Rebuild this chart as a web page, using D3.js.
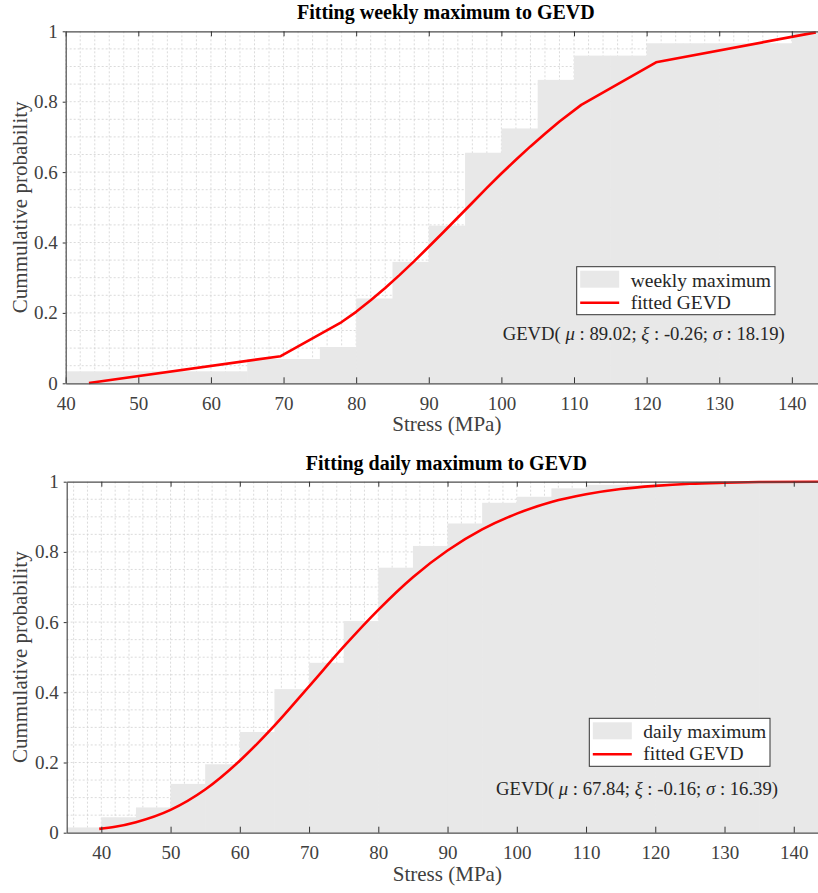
<!DOCTYPE html>
<html>
<head>
<meta charset="utf-8">
<script src="https://cdn.jsdelivr.net/npm/d3@7/dist/d3.min.js"></script>
<style>
  body { margin: 0; background: #fff; }
  svg { display: block; }
  text { font-family: "Liberation Serif", "DejaVu Serif", serif; }
</style>
</head>
<body>
<svg id="chart" width="818" height="893"></svg>
<script>
// histogram bins (left edge, width 5 MPa) and cumulative fractions
const weeklyBins = [40, 45, 50, 55, 60, 65, 70, 75, 80, 85, 90, 95, 100, 105, 110, 115, 120, 125, 130, 135, 140];
const weeklyCdf  = [0.034, 0.034, 0.034, 0.034, 0.034, 0.069, 0.069, 0.103, 0.241, 0.345, 0.448, 0.655, 0.724, 0.862, 0.931, 0.931, 0.966, 0.966, 0.966, 0.966, 1.0];

const dailyBins = [35, 40, 45, 50, 55, 60, 65, 70, 75, 80, 85, 90, 95, 100, 105, 110, 115, 120, 125, 130, 135, 140];
const dailyCdf  = [0.015, 0.044, 0.072, 0.139, 0.195, 0.287, 0.409, 0.484, 0.603, 0.755, 0.817, 0.881, 0.940, 0.957, 0.981, 0.991, 0.991, 0.995, 0.997, 0.997, 0.997, 1.0];

// fitted GEVD curves
const weeklyFitX = [43.2, 69.6, 78.0, 80, 82, 84, 86, 88, 90, 92, 94, 96, 98, 100, 102, 104, 106, 108, 111, 121.3, 143.3];
const weeklyFitY = [0.001, 0.077, 0.174, 0.203, 0.236, 0.271, 0.308, 0.347, 0.388, 0.429, 0.471, 0.513, 0.555, 0.596, 0.635, 0.673, 0.709, 0.744, 0.791, 0.912, 0.997];

const dailyFitX = [39.7, 42, 45, 50, 55, 60, 65, 70, 75, 80, 85, 90, 95, 100, 105, 110, 115, 120, 125, 130, 135, 143.5];
const dailyFitY = [0.011, 0.017, 0.030, 0.065, 0.123, 0.205, 0.305, 0.417, 0.530, 0.635, 0.728, 0.804, 0.864, 0.909, 0.942, 0.964, 0.979, 0.988, 0.994, 0.997, 0.999, 1.0];

const xTickValues = [40, 50, 60, 70, 80, 90, 100, 110, 120, 130, 140];
const yTicks = [0, 0.2, 0.4, 0.6, 0.8, 1];

const svg = d3.select("#chart");

function drawPanel(opt) {
  const x = d3.scaleLinear().domain(opt.xDomain).range([opt.left, opt.right]);
  const y = d3.scaleLinear().domain([0, 1]).range([opt.bottom, opt.top]);
  const g = svg.append("g");
  const clipId = "clip-" + opt.id;

  g.append("clipPath").attr("id", clipId)
    .append("rect")
    .attr("x", opt.left).attr("y", opt.top)
    .attr("width", opt.right - opt.left).attr("height", opt.bottom - opt.top);

  // grid, every 2 MPa and every 0.05
  const xMinor = d3.range(Math.ceil(opt.xDomain[0] / 2) * 2, opt.xDomain[1], 2);
  const yMinor = d3.range(0.05, 1, 0.05);
  const grid = g.append("g").attr("stroke", "#d2d2d2").attr("stroke-dasharray", "2,2").attr("stroke-width", 0.8);
  grid.selectAll(".gx").data(xMinor).enter().append("line")
    .attr("x1", d => x(d)).attr("x2", d => x(d))
    .attr("y1", opt.top).attr("y2", opt.bottom);
  grid.selectAll(".gy").data(yMinor).enter().append("line")
    .attr("x1", opt.left).attr("x2", opt.right)
    .attr("y1", d => y(d)).attr("y2", d => y(d));

  // cumulative histogram bars
  g.append("g").attr("clip-path", "url(#" + clipId + ")")
    .selectAll("rect").data(opt.bins).enter().append("rect")
    .attr("x", d => x(d))
    .attr("width", d => x(d + 5) - x(d) + 0.5)
    .attr("y", (d, i) => y(opt.cdf[i]))
    .attr("height", (d, i) => y(0) - y(opt.cdf[i]))
    .attr("fill", "#e8e8e8");

  // fitted curve
  const line = d3.line()
    .x((d, i) => x(opt.fitX[i]))
    .y((d, i) => y(opt.fitY[i]))
    .curve(opt.curve);
  g.append("path").datum(opt.fitX)
    .attr("d", line)
    .attr("fill", "none")
    .attr("stroke", "#ff0000")
    .attr("stroke-width", 2.6)
    .attr("stroke-linejoin", "round");

  // axes
  const xAxis = d3.axisBottom(x).tickValues(xTickValues).tickSize(-6).tickSizeOuter(0).tickPadding(13);
  const gx = g.append("g").attr("transform", `translate(0,${opt.bottom})`).call(xAxis);
  const xTop = d3.axisTop(x).tickValues(xTickValues).tickSize(-5).tickSizeOuter(0).tickFormat("");
  const gt = g.append("g").attr("transform", `translate(0,${opt.top})`).call(xTop);
  const yAxis = d3.axisLeft(y).tickValues(yTicks).tickSize(3).tickSizeOuter(0).tickPadding(5)
    .tickFormat(d => d3.format("")(d));
  const gy = g.append("g").attr("transform", `translate(${opt.left},0)`).call(yAxis);

  [gx, gt, gy].forEach(a => {
    a.select(".domain").attr("stroke", "#4d4d4d").attr("stroke-width", 1.2);
    a.selectAll(".tick line").attr("stroke", "#333");
    a.selectAll(".tick text").attr("fill", "#404040")
      .style("font-family", '"Liberation Serif", serif').style("font-size", "19px");
  });

  // titles and labels
  g.append("text")
    .attr("x", (opt.left + opt.right) / 2 + 4).attr("y", opt.top - 12)
    .attr("text-anchor", "middle")
    .attr("font-weight", "bold").attr("font-size", 20).attr("fill", "#000")
    .text(opt.title);
  g.append("text")
    .attr("x", (opt.left + opt.right) / 2 + 5).attr("y", opt.bottom + 48)
    .attr("text-anchor", "middle").attr("font-size", 21).attr("fill", "#404040")
    .text("Stress (MPa)");
  g.append("text")
    .attr("transform", `translate(27,${(opt.top + opt.bottom) / 2}) rotate(-90)`)
    .attr("text-anchor", "middle").attr("font-size", 21).attr("fill", "#404040")
    .text("Cummulative probability");

  // legend
  const lg = g.append("g").attr("transform", `translate(${opt.legend[0]},${opt.legend[1]})`);
  lg.append("rect").attr("width", opt.legend[2]).attr("height", 48)
    .attr("fill", "#fff").attr("stroke", "#333").attr("stroke-width", 1);
  lg.append("rect").attr("x", 3.5).attr("y", 4).attr("width", 39).attr("height", 17).attr("fill", "#e8e8e8");
  lg.append("line").attr("x1", 3.5).attr("x2", 42.5).attr("y1", 36).attr("y2", 36)
    .attr("stroke", "#ff0000").attr("stroke-width", 2.6);
  lg.append("text").attr("x", 54).attr("y", 20).attr("font-size", 19.5).attr("fill", "#262626").text(opt.label);
  lg.append("text").attr("x", 54).attr("y", 42).attr("font-size", 19.5).attr("fill", "#262626").text("fitted GEVD");

  // parameter annotation
  const t = g.append("text").attr("x", opt.note[0]).attr("y", opt.note[1])
    .attr("font-size", 18.7).attr("fill", "#262626");
  t.append("tspan").text("GEVD( ");
  t.append("tspan").attr("font-style", "italic").text("μ");
  t.append("tspan").text(" : " + opt.params[0] + "; ");
  t.append("tspan").attr("font-style", "italic").text("ξ");
  t.append("tspan").text(" : " + opt.params[1] + "; ");
  t.append("tspan").attr("font-style", "italic").text("σ");
  t.append("tspan").text(" : " + opt.params[2] + ")");
}

drawPanel({
  id: "weekly",
  left: 65.7, right: 818, top: 31.3, bottom: 383.3,
  xDomain: [40, 143.6],
  bins: weeklyBins, cdf: weeklyCdf,
  fitX: weeklyFitX, fitY: weeklyFitY, curve: d3.curveLinear,
  title: "Fitting weekly maximum to GEVD",
  label: "weekly maximum",
  legend: [576.7, 266.7, 198.3],
  note: [502.7, 340],
  params: ["89.02", "-0.26", "18.19"]
});

drawPanel({
  id: "daily",
  left: 66.7, right: 818, top: 481.7, bottom: 832.7,
  xDomain: [35, 143.5],
  bins: dailyBins, cdf: dailyCdf,
  fitX: dailyFitX, fitY: dailyFitY, curve: d3.curveMonotoneX,
  title: "Fitting daily maximum to GEVD",
  label: "daily maximum",
  legend: [589.3, 718.3, 180.7],
  note: [496, 795],
  params: ["67.84", "-0.16", "16.39"]
});
</script>
</body>
</html>
